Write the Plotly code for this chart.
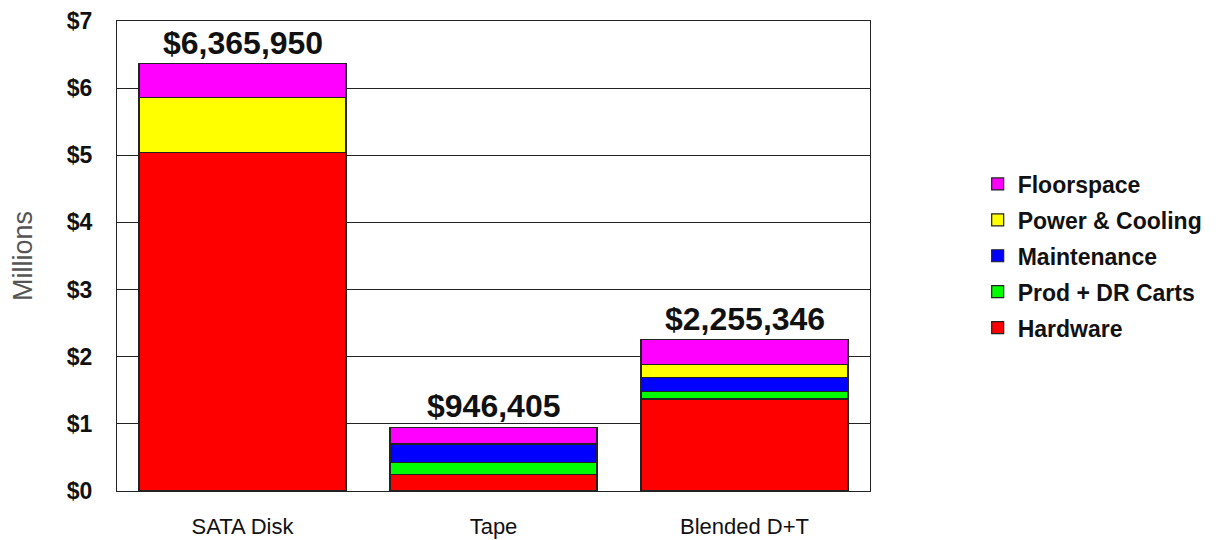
import plotly.graph_objects as go

categories = ["SATA Disk", "Tape", "Blended D+T"]
hardware = [5.04, 0.24, 1.37]
prod_dr_carts = [0.0, 0.18, 0.11]
maintenance = [0.0, 0.28, 0.21]
power_cooling = [0.82, 0.0, 0.20]
floorspace = [0.506, 0.246, 0.365]
totals = [6365950, 946405, 2255346]
tick_vals = [0, 1, 2, 3, 4, 5, 6, 7]
tick_text = ["$0", "$1", "$2", "$3", "$4", "$5", "$6", "$7"]

series = [
    ("Hardware", hardware, "#FF0000"),
    ("Prod + DR Carts", prod_dr_carts, "#00FF00"),
    ("Maintenance", maintenance, "#0000FF"),
    ("Power & Cooling", power_cooling, "#FFFF00"),
    ("Floorspace", floorspace, "#FF00FF"),
]

fig = go.Figure()
for i, (name, vals, color) in enumerate(series):
    fig.add_trace(go.Bar(
        x=categories, y=vals, name=name, legendgroup=name,
        legendrank=1000 - i,
        marker=dict(color=color, line=dict(color="#222222", width=1.2)),
        hoverinfo="x+y+name",
    ))

for cat, tot in zip(categories, totals):
    fig.add_annotation(
        x=cat, y=tot / 1e6, text="<b>${:,}</b>".format(tot),
        showarrow=False, yanchor="bottom", yshift=1,
        font=dict(family="Liberation Sans, Arial, sans-serif", size=32, color="#111111"),
    )

fig.update_layout(
    width=1216, height=540,
    barmode="stack", bargap=0.175,
    paper_bgcolor="white", plot_bgcolor="white",
    margin=dict(l=109, r=354, t=13, b=57, autoexpand=False),
    font=dict(family="Liberation Sans, Arial, sans-serif", color="#111111"),
    showlegend=True,
    legend=dict(
        x=1.143, xanchor="left", y=0.5, yanchor="middle",
        traceorder="grouped", tracegroupgap=3,
        font=dict(size=23, color="#111111", family="Liberation Sans, Arial, sans-serif", weight="bold"),
        itemwidth=30,
        bgcolor="rgba(0,0,0,0)",
    ),
    xaxis=dict(
        showline=True, linecolor="#222222", linewidth=1.2, mirror=True,
        ticks="", ticklabelstandoff=15, automargin=False,
        tickfont=dict(size=22, color="#111111"),
        showgrid=False,
    ),
    yaxis=dict(
        range=[0, 7], tickvals=tick_vals, ticktext=tick_text,
        showline=True, linecolor="#222222", linewidth=1.2, mirror=True,
        showgrid=True, gridcolor="#222222", gridwidth=1.2,
        ticks="", ticklabelstandoff=19, automargin=False,
        tickfont=dict(size=23, color="#111111", weight="bold"),
        title=dict(text="Millions", font=dict(size=27, color="#555555"), standoff=29),
        zeroline=False,
    ),
)

fig.write_html("out.html")
